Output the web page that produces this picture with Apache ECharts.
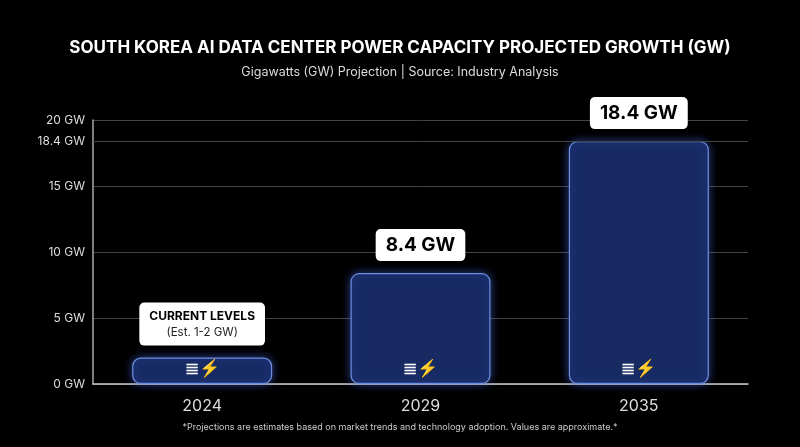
<!DOCTYPE html>
<html><head><meta charset="utf-8">
<script src="https://cdn.jsdelivr.net/npm/echarts@6/dist/echarts.min.js"></script>
<style>html,body{margin:0;background:#000}#c{width:800px;height:447px}</style>
</head><body><div id="c"></div>
<script>
const categories = ['2024','2029','2035'];
const values = [2, 8.4, 18.4];
const topLabels = ['{t|CURRENT LEVELS}\n{s|(Est. 1-2 GW)}', '{b|8.4 GW}', '{b|18.4 GW}'];
const peakValue = 18.4;

const chart = echarts.init(document.getElementById('c'));
const F = 'Inter, "Noto Sans", sans-serif';
chart.setOption({
  backgroundColor: '#000',
  title: {
    text: 'SOUTH KOREA AI DATA CENTER POWER CAPACITY PROJECTED GROWTH (GW)',
    subtext: 'Gigawatts (GW) Projection | Source: Industry Analysis',
    left: 'center', top: 34, itemGap: 10,
    textStyle: {color: '#fff', fontSize: 17, fontWeight: 'bold', fontFamily: F},
    subtextStyle: {color: '#ddd', fontSize: 12.5, fontFamily: F}
  },
  graphic: [{type: 'text', left: 'center', top: 423,
    style: {text: '*Projections are estimates based on market trends and technology adoption. Values are approximate.*',
      fill: '#ccc', font: '9px ' + F}}],
  grid: {left: 93, right: 52, top: 120, bottom: 63},
  xAxis: {
    type: 'category', data: categories,
    axisLine: {lineStyle: {color: '#ccc', width: 1.5}},
    axisTick: {show: false},
    axisLabel: {color: '#ddd', fontSize: 16, margin: 14, fontFamily: F}
  },
  yAxis: {
    type: 'value', min: 0, max: 20, interval: 5,
    axisLine: {show: true, lineStyle: {color: '#aaa', width: 1.5}},
    splitLine: {lineStyle: {color: '#444'}},
    axisLabel: {color: '#ddd', fontSize: 12, formatter: v => v + ' GW', fontFamily: F}
  },
  series: [{
    type: 'bar', data: values, barWidth: 140,
    itemStyle: {color: '#172a62', borderColor: '#6f8fe0', borderWidth: 1.2, borderRadius: 8,
      shadowColor: 'rgba(80,120,255,0.55)', shadowBlur: 10},
    label: {show: true, position: 'insideBottom', distance: 6, formatter: '≣⚡',
      color: '#fff', fontSize: 17, fontWeight: 'bold'},
    markLine: {
      silent: true, symbol: 'none',
      lineStyle: {color: '#444', type: 'solid', width: 1},
      label: {show: true, position: 'start', formatter: v => v.value + ' GW', color: '#ddd', fontSize: 12, distance: 8, fontFamily: F},
      data: [{yAxis: peakValue}]
    }
  }, {
    type: 'scatter', data: values, symbolSize: 0, silent: true, z: 10,
    itemStyle: {opacity: 1},
    label: {show: true, position: 'top', distance: 12,
      formatter: p => topLabels[p.dataIndex],
      backgroundColor: '#fff', borderRadius: 5, padding: [5, 10],
      rich: {
        t: {color: '#000', fontSize: 12, fontWeight: 'bold', fontFamily: F, lineHeight: 17},
        s: {color: '#222', fontSize: 11.5, fontFamily: F, lineHeight: 16, align: 'center'},
        b: {color: '#000', fontSize: 19, fontWeight: 'bold', fontFamily: F, lineHeight: 22}
      }
    }
  }]
});
</script></body></html>
